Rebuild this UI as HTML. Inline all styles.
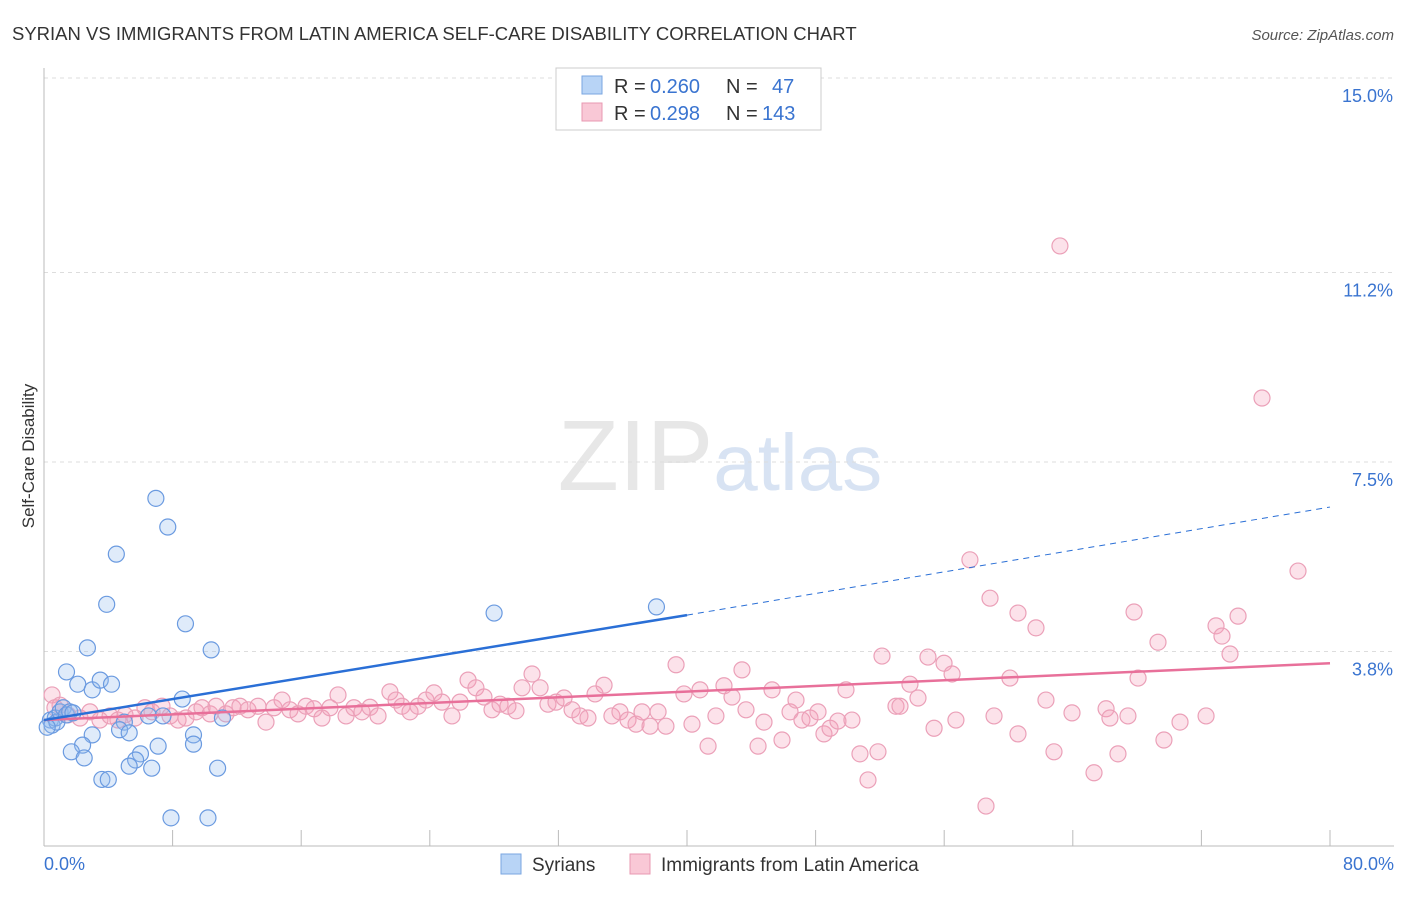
<!DOCTYPE html>
<html><head><meta charset="utf-8"><style>
body{margin:0;background:#fff;font-family:"Liberation Sans",sans-serif;}
svg text{font-family:"Liberation Sans",sans-serif;}
</style></head><body>
<svg id="chart" width="1406" height="892" xmlns="http://www.w3.org/2000/svg">
<text x="12" y="40" font-size="18.5" fill="#333">SYRIAN VS IMMIGRANTS FROM LATIN AMERICA SELF-CARE DISABILITY CORRELATION CHART</text>
<text x="1394" y="40" font-size="15" fill="#555" font-style="italic" text-anchor="end">Source: ZipAtlas.com</text>
<text x="720" y="490" font-size="100" fill="#ddd" text-anchor="middle" font-family="Liberation Serif" opacity="0.7">ZIP<tspan fill="#c8d8ee" font-family="Liberation Sans" font-size="80">atlas</tspan></text>
<g id="grid"></g><g id="axes"></g><g id="marks"></g>
<text transform="translate(34,456) rotate(-90)" font-size="17" fill="#333" text-anchor="middle">Self-Care Disability</text>
<g>
<rect x="556" y="68" width="265" height="62" fill="#fff" stroke="#ccc"/>
<rect x="582" y="76" width="20" height="18" fill="#b8d4f6" stroke="#7aa6e0"/>
<text x="614" y="93" font-size="20" fill="#333">R =</text>
<text x="650" y="93" font-size="20" fill="#3a74d0">0.260</text>
<text x="726" y="93" font-size="20" fill="#333">N =</text>
<text x="772" y="93" font-size="20" fill="#3a74d0">47</text>
<rect x="582" y="103" width="20" height="18" fill="#f9c8d6" stroke="#e898b2"/>
<text x="614" y="120" font-size="20" fill="#333">R =</text>
<text x="650" y="120" font-size="20" fill="#3a74d0">0.298</text>
<text x="726" y="120" font-size="20" fill="#333">N =</text>
<text x="762" y="120" font-size="20" fill="#3a74d0">143</text>
</g>
<g>
<rect x="501" y="854" width="20" height="20" fill="#b8d4f6" stroke="#7aa6e0"/>
<text x="532" y="871" font-size="19" fill="#333">Syrians</text>
<rect x="630" y="854" width="20" height="20" fill="#f9c8d6" stroke="#e898b2"/>
<text x="661" y="871" font-size="19" fill="#333">Immigrants from Latin America</text>
</g>
</svg>
<script>
const yTicks=[3.8,7.5,11.2,15.0];
const yTickLabels=["3.8%","7.5%","11.2%","15.0%"];
const xTickLabels=["0.0%","80.0%"];
const syrX=[0.4,0.5,0.7,0.8,1.0,1.2,1.4,1.6,1.8,0.2,1.4,2.1,2.7,3.0,3.5,4.2,3.9,4.5,6.96,7.7,8.8,10.4,8.6,7.4,6.5,5.0,4.7,5.3,3.0,2.4,1.7,2.5,6.0,7.1,5.7,5.3,6.7,10.8,9.3,9.3,11.1,3.6,4.0,7.9,10.2,28.0,38.1];
const syrY=[2.46,2.36,2.50,2.42,2.62,2.70,2.56,2.62,2.60,2.32,3.40,3.16,3.87,3.05,3.24,3.16,4.72,5.70,6.79,6.23,4.34,3.83,2.87,2.54,2.54,2.42,2.27,2.21,2.17,1.97,1.84,1.72,1.80,1.95,1.68,1.56,1.52,1.52,2.17,1.99,2.50,1.30,1.30,0.55,0.55,4.55,4.67];
const latX=[0.50,0.68,1.00,1.49,2.24,2.86,3.48,4.11,4.60,5.04,5.66,6.28,6.72,7.34,7.84,8.34,8.83,9.46,9.83,10.33,10.70,11.32,11.76,12.19,12.69,13.31,13.81,14.31,14.81,15.30,15.80,16.30,16.80,17.29,17.79,18.29,18.79,19.28,19.78,20.28,20.78,21.52,21.90,22.27,22.77,23.27,23.76,24.26,24.76,25.38,25.88,26.38,26.87,27.37,27.87,28.37,28.86,29.36,29.74,30.36,30.86,31.35,31.85,32.35,32.85,33.34,33.84,34.28,34.84,35.33,35.83,36.33,36.83,37.20,37.70,38.20,38.69,39.32,39.81,40.31,40.81,41.31,41.80,42.30,42.80,43.42,43.67,44.42,44.79,45.29,45.91,46.41,46.78,47.15,47.65,48.15,48.52,48.90,49.39,49.89,50.26,50.76,51.26,51.88,52.13,53.00,53.25,53.87,54.37,54.99,55.37,55.99,56.49,56.73,57.60,58.60,58.85,59.10,60.09,60.59,60.59,61.71,62.33,62.83,63.20,63.95,65.32,66.07,66.31,66.81,67.43,67.81,68.06,69.30,69.67,70.67,72.29,72.91,73.28,73.78,74.28,75.77,78.01];
const latY=[2.95,2.70,2.75,2.56,2.50,2.62,2.46,2.54,2.46,2.56,2.50,2.70,2.62,2.73,2.54,2.46,2.50,2.62,2.70,2.58,2.73,2.58,2.70,2.73,2.66,2.73,2.42,2.70,2.85,2.66,2.58,2.73,2.68,2.50,2.70,2.95,2.54,2.70,2.62,2.71,2.54,3.01,2.85,2.73,2.62,2.73,2.85,2.99,2.81,2.54,2.81,3.24,3.09,2.91,2.66,2.77,2.73,2.64,3.09,3.36,3.09,2.77,2.81,2.89,2.66,2.54,2.50,2.97,3.14,2.54,2.62,2.46,2.38,2.62,2.34,2.62,2.34,3.54,2.97,2.38,3.05,1.95,2.54,3.13,2.91,3.44,2.66,1.95,2.42,3.05,2.07,2.62,2.85,2.46,2.50,2.62,2.19,2.30,2.44,3.05,2.46,1.80,1.29,1.84,3.71,2.73,2.73,3.16,2.89,3.69,2.30,3.57,3.36,2.46,5.59,0.78,4.84,2.54,3.28,2.19,4.55,4.26,2.85,1.84,11.72,2.60,1.43,2.68,2.50,1.80,2.54,4.57,3.28,3.98,2.07,2.42,2.54,4.30,4.10,3.75,4.49,8.75,5.37];
const syrTrend=[[0,2.46],[40,4.51]],syrDash=[[40,4.51],[80,6.62]];
const latTrend=[[0,2.46],[80,3.57]];
const X0=44,X1=1330,Y0=846,Ymax=15;
const xs=v=>X0+(X1-X0)*v/80, ys=v=>Y0-(Y0-78)*v/Ymax;
const NS="http://www.w3.org/2000/svg";
function mk(t,p,a){const e=document.createElementNS(NS,t);for(const k in a)e.setAttribute(k,a[k]);p.appendChild(e);return e;}
const grid=document.getElementById('grid'),axes=document.getElementById('axes'),marks=document.getElementById('marks');
yTicks.forEach((t,i)=>{
 const l=mk('line',grid,{x1:X0,x2:1394,y1:ys(t),y2:ys(t),stroke:'#ddd','stroke-dasharray':'4,4'});
 
 
 const tx=mk('text',axes,{x:1393,y:ys(t)+24,'font-size':18,fill:'#3a74d0','text-anchor':'end'});
 tx.textContent=yTickLabels[i];
 
 
});
const ax=mk('line',axes,{x1:X0,x2:1394,y1:Y0,y2:Y0,stroke:'#bbb'});


const ay=mk('line',axes,{x1:X0,x2:X0,y1:68,y2:Y0,stroke:'#bbb'});


for(let i=0;i<=10;i++){const t=mk('line',axes,{x1:xs(i*8),x2:xs(i*8),y1:Y0,y2:830,stroke:'#bbb'});
 
 }
[[0,44,'start'],[1,1394,'end']].forEach(([i,x,a])=>{const t=mk('text',axes,{x:x,y:870,'font-size':18,fill:'#3a74d0','text-anchor':a});t.textContent=xTickLabels[i];
 
 });
latX.forEach((v,i)=>{const c=mk('circle',marks,{cx:xs(v),cy:ys(latY[i]),r:8,fill:'rgba(244,160,186,0.3)',stroke:'#eba0b8','stroke-width':1.2});
 
 });
syrX.forEach((v,i)=>{const c=mk('circle',marks,{cx:xs(v),cy:ys(syrY[i]),r:8,fill:'rgba(150,190,240,0.3)',stroke:'#6a9ae0','stroke-width':1.2});
 
 });
const l1=mk('line',marks,{x1:xs(latTrend[0][0]),y1:ys(latTrend[0][1]),x2:xs(latTrend[1][0]),y2:ys(latTrend[1][1]),stroke:'#e8709a','stroke-width':2.5});


const l2=mk('line',marks,{x1:xs(syrTrend[0][0]),y1:ys(syrTrend[0][1]),x2:xs(syrTrend[1][0]),y2:ys(syrTrend[1][1]),stroke:'#2a6fd6','stroke-width':2.5});


const l3=mk('line',marks,{x1:xs(syrDash[0][0]),y1:ys(syrDash[0][1]),x2:xs(syrDash[1][0]),y2:ys(syrDash[1][1]),stroke:'#2a6fd6','stroke-width':1,'stroke-dasharray':'6,5'});


</script>
</body></html>
